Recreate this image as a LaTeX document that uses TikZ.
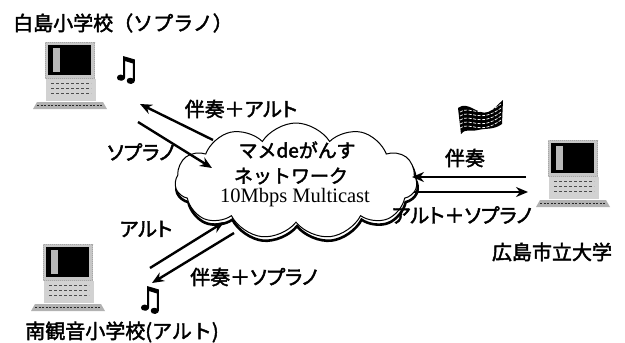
\documentclass[tikz,border=0pt]{standalone}
\usepackage{fontspec}
\newfontfamily\jp{Noto Sans CJK JP}[FakeBold=2.2,RawFeature=+palt]
\newfontfamily\jpw{Noto Sans CJK JP}[FakeBold=2.2]
\newfontfamily\tms{Liberation Serif}
\newfontfamily\sym{DejaVu Sans}[FakeBold=3]
\usetikzlibrary{shapes.symbols,arrows.meta}

\tikzset{
  lbl/.style={font=\jp\fontsize{20}{24}\selectfont, inner sep=0pt},
  title/.style={font=\jpw\fontsize{20}{24}\selectfont, inner sep=0pt},
  cloudtxt/.style={font=\jpw\fontsize{19}{22}\selectfont, inner sep=0pt},
  flow/.style={line width=2.4pt, -{Stealth[length=12pt,width=10pt]}},
  notesym/.style={font=\sym\fontsize{32}{32}\selectfont, inner sep=0pt},
  netcloud/.style={cloud, cloud puffs=11, cloud puff arc=115, aspect=2.1,
    minimum width=242pt, minimum height=116pt, inner sep=0pt},
  computer/.pic={
    % monitor frame, screen and highlight stripe
    \fill[gray!45] (0,0) rectangle (50,37);
    \draw[gray!70, line width=1pt, dash pattern=on 1pt off 1pt] (0.5,0.5) rectangle (49.5,36.5);
    \fill[black] (3,3) rectangle (46,33);
    \fill[gray!55] (8,6) rectangle (15,30);
    % system unit
    \fill[gray!35] (1,37) rectangle (51,59);
    \foreach \yy in {41,46,51}
      \draw[gray!60!black, line width=1pt, dash pattern=on 3pt off 2pt] (6,\yy) -- (46,\yy);
    % keyboard
    \fill[gray!60] (-12,67) -- (-8,60) -- (58,60) -- (62,67) -- cycle;
    \draw[gray!30!black, line width=0.8pt, dash pattern=on 2pt off 1.5pt] (-8,63.5) -- (58,63.5);
  }
}

\begin{document}
\begin{tikzpicture}[x=1pt,y=-1pt]
\useasboundingbox (0,0) rectangle (625,343);
\fill[white] (0,0) rectangle (625,343);

% the network cloud with a heavy lower rim
\node[netcloud, draw, line width=2.6pt] (netshadow) at (297,185) {};
\node[netcloud, draw, line width=1pt, fill=white] (net) at (296,181) {};
\node[cloudtxt] (t1) at (297,150) {マメdeがんす};
\node[cloudtxt] (t2) at (291,176) {ネットワーク};
\node[font=\tms\fontsize{20.5}{24}\selectfont, inner sep=0pt] (t3) at (295,198) {10Mbps Multicast};

% computers
\pic at (45,42) {computer};
\pic at (548,140) {computer};
\pic at (43,244) {computer};

% music: two beamed notes and a fluttering score sheet
\node[notesym] (n1) at (126,70) {♫};
\node[notesym] (n3) at (150,300) {♫};
\begin{scope}
  \fill[black] (458,108) .. controls (468,100) and (478,116) .. (488,112)
    .. controls (495,109) and (498,104) .. (503,100) -- (502,124)
    .. controls (494,130) and (486,128) .. (478,130)
    .. controls (470,132) and (466,128) .. (461,134) -- cycle;
  \foreach \k in {0,1,2,3,4}
    \draw[white, line width=0.7pt, dash pattern=on 3pt off 1.5pt]
      (460,{112+4*\k}) .. controls (470,{105+4*\k}) and (480,{120+4*\k}) .. (501,{104+4*\k});
\end{scope}

% labels
\node[title] (s1) at (123,23) {白島小学校（ソプラノ）};
\node[title] (s2) at (552,252) {広島市立大学};
\node[title] (s3) at (122,332) {南観音小学校(アルト)};
\node[lbl] (l1) at (241,109) {伴奏＋アルト};
\node[lbl] (l2) at (141,152) {ソプラノ};
\node[lbl] (l3) at (146,229) {アルト};
\node[lbl] (l4) at (254,277) {伴奏＋ソプラノ};
\node[lbl] (l5) at (465,158) {伴奏};
\node[lbl] (l6) at (462,215) {アルト＋ソプラノ};

% streams
\coordinate (a1s) at (213,140); \coordinate (a1e) at (140,104);
\coordinate (a2s) at (138,122); \coordinate (a2e) at (212,168);
\coordinate (b1s) at (150,268); \coordinate (b1e) at (224,222);
\coordinate (b2s) at (234,233); \coordinate (b2e) at (152,283);
\coordinate (c1s) at (526,177); \coordinate (c1e) at (412,177);
\coordinate (c2s) at (414,192); \coordinate (c2e) at (528,192);
\draw[flow] (a1s) -- (a1e);
\draw[flow] (a2s) -- (a2e);
\draw[flow] (b1s) -- (b1e);
\draw[flow] (b2s) -- (b2e);
\draw[flow] (c1s) -- (c1e);
\draw[flow] (c2s) -- (c2e);
\end{tikzpicture}
\end{document}
